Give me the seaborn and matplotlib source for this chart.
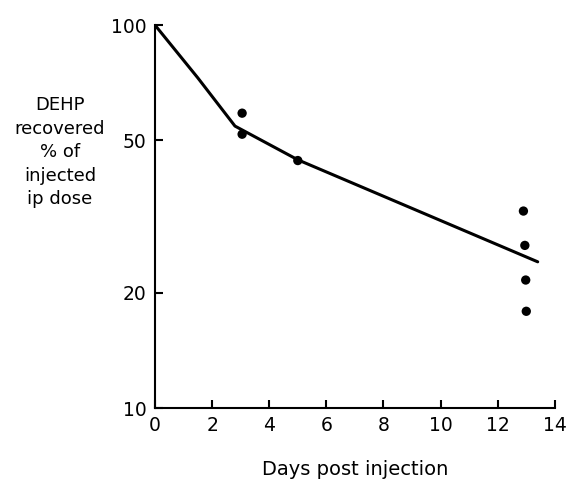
import matplotlib
matplotlib.use("Agg")
import matplotlib.pyplot as plt
import seaborn as sns
import pandas as pd
from matplotlib.ticker import FixedLocator, NullLocator

# fitted curve
line_days = [0, 1.5, 2.8, 5.0, 13.4]
line_pct = [100, 72.8, 54.5, 44.5, 24.1]

# measured points
pt_days = [3.05, 3.05, 5.0, 12.9, 12.95, 12.98, 13.0]
pt_pct = [58.9, 51.9, 44.3, 32.7, 26.6, 21.6, 17.9]

x_ticks = [0, 2, 4, 6, 8, 10, 12, 14]
y_ticks = [10, 20, 50, 100]

sns.set_style("ticks")
plt.rcParams['font.family'] = ['DejaVu Sans']
plt.rcParams['text.color'] = 'black'
plt.rcParams['axes.labelcolor'] = 'black'
plt.rcParams['xtick.color'] = 'black'
plt.rcParams['ytick.color'] = 'black'
plt.rcParams['axes.edgecolor'] = 'black'

fig = plt.figure(figsize=(5.72, 4.83), dpi=100)
ax = fig.add_axes([0.271, 0.155, 0.699, 0.793])

line_df = pd.DataFrame({"day": line_days, "pct": line_pct})
pt_df = pd.DataFrame({"day": pt_days, "pct": pt_pct})

sns.lineplot(data=line_df, x="day", y="pct", color="black", linewidth=2.2, ax=ax)
sns.scatterplot(data=pt_df, x="day", y="pct", color="black", s=45, edgecolor="none", ax=ax)

ax.set_yscale("log")
ax.set_xlim(0, 14)
ax.set_ylim(10, 100)
ax.xaxis.set_major_locator(FixedLocator(x_ticks))
ax.yaxis.set_major_locator(FixedLocator(y_ticks))
ax.yaxis.set_minor_locator(NullLocator())
ax.set_xticklabels([str(t) for t in x_ticks], fontsize=13.5)
ax.set_yticklabels([str(t) for t in y_ticks], fontsize=13.5)
ax.tick_params(direction="in", length=6, width=1.5, pad=6)

sns.despine(ax=ax)
for s in ["left", "bottom"]:
    ax.spines[s].set_linewidth(1.5)

ax.set_xlabel("Days post injection", fontsize=14, labelpad=18)
ax.set_ylabel("")
fig.text(0.105, 0.685, "DEHP\nrecovered\n% of\ninjected\nip dose",
         ha="center", va="center", fontsize=13, linespacing=1.4)

fig.savefig("out.png", dpi=100, facecolor="white")
